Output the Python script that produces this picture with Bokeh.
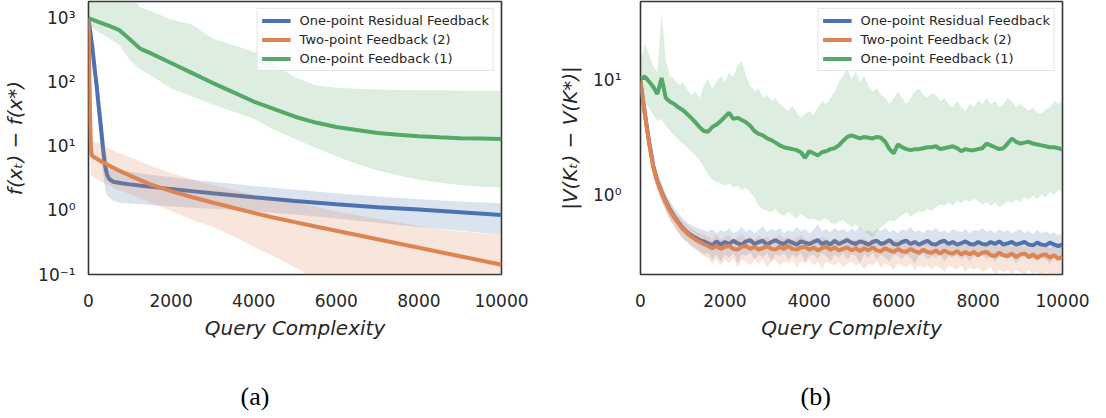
from bokeh.plotting import figure
from bokeh.layouts import row
from bokeh.models import Range1d, FixedTicker, CustomJSTickFormatter, Title
from bokeh.embed import file_html
from bokeh.resources import INLINE

# ---------------- data: panel (a) ----------------
xa_blue = [0, 50, 100, 150, 200, 250, 300, 350, 400, 450, 500, 600, 800, 1000, 1500, 2000, 2500, 3000, 4000, 5000, 6000, 7000, 8000, 9000, 10000]
blue_a = [1000, 560, 320, 160, 85, 40, 20, 9.5, 5.0, 3.6, 3.1, 2.8, 2.65, 2.55, 2.35, 2.15, 2.0, 1.85, 1.6, 1.4, 1.25, 1.12, 1.03, 0.94, 0.85]
blue_a_hi = [1000, 800, 500, 260, 150, 80, 40, 20, 10, 6.0, 4.6, 4.3, 4.2, 4.0, 3.6, 3.3, 3.0, 2.8, 2.4, 2.1, 1.85, 1.65, 1.5, 1.38, 1.28]
blue_a_lo = [1000, 350, 180, 90, 45, 20, 9, 4.0, 2.2, 1.7, 1.6, 1.4, 1.3, 1.28, 1.22, 1.15, 1.1, 1.06, 0.97, 0.86, 0.75, 0.64, 0.55, 0.48, 0.42]

xa_orange = [0, 20, 40, 60, 80, 200, 400, 700, 1000, 1500, 2000, 2500, 3000, 3500, 4000, 4500, 5000, 5500, 6000, 6500, 7000, 7500, 8000, 8500, 9000, 9500, 10000]
orange_a = [1000, 150, 25, 9.0, 7.2, 6.4, 5.4, 4.3, 3.5, 2.55, 2.0, 1.62, 1.33, 1.1, 0.915, 0.77, 0.656, 0.562, 0.483, 0.414, 0.355, 0.305, 0.262, 0.224, 0.193, 0.165, 0.142]
orange_a_hi = [1000, 200, 40, 14, 12.5, 11.5, 10, 8.0, 6.8, 5.0, 3.8, 3.1, 2.5, 2.1, 1.75, 1.5, 1.32, 1.15, 0.95, 0.85, 0.74, 0.65, 0.57, 0.51, 0.47, 0.44, 0.42]
orange_a_lo = [1000, 100, 15, 3.5, 3.4, 3.1, 2.6, 2.1, 1.8, 1.3, 0.98, 0.72, 0.55, 0.4, 0.27, 0.19, 0.13, 0.085, 0.07, 0.06, 0.05, 0.045, 0.04, 0.036, 0.033, 0.03, 0.028]

xa_green = [0, 250, 500, 750, 1000, 1250, 1500, 2000, 2500, 3000, 3500, 4000, 4500, 5000, 5500, 6000, 6500, 7000, 7500, 8000, 8500, 9000, 9500, 10000]
green_a = [1000, 870, 760, 650, 470, 335, 285, 200, 140, 98, 70, 50, 38, 29, 23.5, 20, 18, 16.2, 15.2, 14.4, 13.8, 13.4, 13.2, 13.0]
green_a_hi = [1900, 2300, 3100, 2800, 2300, 1500, 1300, 950, 800, 480, 380, 300, 190, 120, 90, 82, 79, 77, 76, 75, 75, 74, 74, 74]
green_a_lo = [800, 600, 480, 380, 220, 160, 130, 80, 60, 45, 35, 27, 18, 13, 9.5, 7.0, 5.3, 4.2, 3.5, 3.0, 2.7, 2.5, 2.35, 2.25]

# ---------------- data: panel (b) ----------------
xb = list(range(0, 10001, 100))
green_b = [10.3, 10.8, 9.8, 8.8, 7.6, 10.5, 7.0, 6.5, 6.2, 5.8,
           5.5, 5.1, 4.7, 4.3, 3.9, 3.6, 3.55, 3.9, 4.1, 4.4,
           4.8, 5.2, 4.6, 4.7, 4.5, 4.3, 4.0, 3.6, 3.4, 3.3,
           3.1, 3.0, 2.85, 2.7, 2.6, 2.55, 2.5, 2.45, 2.35, 2.1,
           2.4, 2.3, 2.2, 2.35, 2.4, 2.5, 2.55, 2.7, 2.95, 3.2,
           3.3, 3.2, 3.1, 3.2, 3.15, 3.1, 3.2, 3.15, 2.9, 2.5,
           2.3, 2.75, 2.6, 2.5, 2.45, 2.5, 2.5, 2.55, 2.6, 2.6,
           2.65, 2.5, 2.55, 2.6, 2.65, 2.55, 2.4, 2.5, 2.45, 2.45,
           2.5, 2.55, 2.8, 2.7, 2.6, 2.5, 2.55, 2.8, 3.1, 2.9,
           2.8, 2.85, 2.9, 2.8, 2.75, 2.7, 2.65, 2.6, 2.6, 2.55,
           2.48]
green_b_hi = [14.3, 21, 17, 13.4, 11.8, 40, 15, 11, 10.3, 9.1,
              9.7, 8.5, 7.5, 8, 7, 9, 10.3, 8.5, 9.7, 11,
              9.7, 11.8, 10.7, 13.4, 14.8, 11, 9, 8, 8.5, 7,
              7.5, 6.6, 7, 6.2, 5.8, 5.4, 6, 5.2, 4.7, 5.1,
              5.4, 4.9, 5.8, 6.6, 6.2, 7, 8, 9.7, 11, 12.6,
              10.3, 11.8, 9.7, 11, 9, 8, 8.5, 7.5, 7, 6.2,
              7, 8, 7, 6.2, 7, 8, 8.5, 7.5, 7, 7.7,
              7.5, 6.6, 7, 6.2, 5.8, 6.6, 5.8, 5.4, 6.2, 5.8,
              6.6, 6.2, 7, 6.2, 6.6, 5.8, 6.2, 7, 6.6, 5.8,
              6.2, 5.8, 5.4, 5.8, 5.2, 5.1, 5.6, 5.8, 6.6, 6.2,
              6.6]
green_b_lo = [7.5, 6.5, 5.8, 5.0, 4.4, 4.6, 4.0, 3.6, 3.3, 3.0,
              2.8, 2.6, 2.4, 2.2, 2.0, 1.75, 1.5, 1.35, 1.3, 1.25,
              1.2, 1.25, 1.15, 1.2, 1.1, 1.15, 1.05, 0.95, 0.8, 0.75,
              0.72, 0.7, 0.75, 0.68, 0.65, 0.7, 0.66, 0.62, 0.68, 0.64,
              0.6, 0.62, 0.58, 0.6, 0.62, 0.57, 0.55, 0.58, 0.6, 0.56,
              0.52, 0.55, 0.5, 0.47, 0.45, 0.42, 0.48, 0.52, 0.55, 0.6,
              0.58, 0.62, 0.66, 0.7, 0.64, 0.68, 0.72, 0.7, 0.75, 0.72,
              0.78, 0.82, 0.8, 0.85, 0.8, 0.88, 0.84, 0.9, 0.86, 0.92,
              0.88, 0.82, 0.86, 0.8, 0.85, 0.78, 0.82, 0.88, 0.84, 0.9,
              0.86, 0.95, 0.9, 0.98, 0.92, 1.0, 0.95, 1.05, 1.0, 1.1,
              1.05]
blue_b = [9.5, 5.2, 2.95, 1.8, 1.32, 1.06, 0.87, 0.74, 0.64, 0.57,
          0.51, 0.47, 0.44, 0.42, 0.40, 0.39, 0.375, 0.36, 0.39, 0.365,
          0.385, 0.37, 0.395, 0.375, 0.365, 0.39, 0.4, 0.37, 0.385, 0.395,
          0.365, 0.385, 0.4, 0.38, 0.37, 0.395, 0.38, 0.365, 0.39, 0.38,
          0.37, 0.385, 0.4, 0.37, 0.385, 0.365, 0.395, 0.37, 0.385, 0.4,
          0.38, 0.37, 0.39, 0.38, 0.365, 0.385, 0.395, 0.37, 0.38, 0.4,
          0.37, 0.365, 0.385, 0.395, 0.37, 0.385, 0.365, 0.38, 0.395, 0.37,
          0.365, 0.385, 0.395, 0.37, 0.385, 0.365, 0.375, 0.39, 0.37, 0.365,
          0.385, 0.37, 0.365, 0.385, 0.37, 0.39, 0.365, 0.375, 0.385, 0.365,
          0.375, 0.385, 0.365, 0.36, 0.38, 0.365, 0.36, 0.38, 0.365, 0.355,
          0.365]
blue_b_hi = [11, 6.2, 3.5, 2.1, 1.55, 1.25, 1.02, 0.88, 0.76, 0.68,
             0.62, 0.57, 0.54, 0.52, 0.5, 0.49, 0.47, 0.5, 0.46, 0.49,
             0.47, 0.51, 0.46, 0.48, 0.52, 0.47, 0.5, 0.46, 0.49, 0.53,
             0.47, 0.5, 0.48, 0.51, 0.46, 0.49, 0.47, 0.52, 0.48, 0.5,
             0.46, 0.49, 0.55, 0.48, 0.5, 0.47, 0.51, 0.48, 0.5, 0.47,
             0.5, 0.48, 0.52, 0.47, 0.49, 0.46, 0.5, 0.48, 0.51, 0.47,
             0.49, 0.46, 0.5, 0.48, 0.52, 0.47, 0.49, 0.46, 0.5, 0.48,
             0.51, 0.47, 0.49, 0.46, 0.5, 0.48, 0.47, 0.5, 0.46, 0.49,
             0.48, 0.51, 0.47, 0.49, 0.46, 0.5, 0.47, 0.49, 0.46, 0.48,
             0.5, 0.46, 0.48, 0.45, 0.49, 0.46, 0.48, 0.45, 0.47, 0.44,
             0.46]
blue_b_lo = [8.2, 4.4, 2.5, 1.5, 1.1, 0.88, 0.72, 0.61, 0.53, 0.47,
             0.42, 0.39, 0.36, 0.34, 0.32, 0.3, 0.31, 0.27, 0.3, 0.26,
             0.3, 0.28, 0.31, 0.25, 0.3, 0.29, 0.31, 0.27, 0.3, 0.28,
             0.31, 0.26, 0.3, 0.29, 0.31, 0.27, 0.3, 0.28, 0.31, 0.26,
             0.29, 0.3, 0.27, 0.31, 0.29, 0.26, 0.3, 0.28, 0.31, 0.27,
             0.3, 0.29, 0.25, 0.3, 0.28, 0.31, 0.27, 0.3, 0.28, 0.26,
             0.3, 0.29, 0.27, 0.3, 0.28, 0.25, 0.29, 0.3, 0.27, 0.29,
             0.28, 0.3, 0.26, 0.29, 0.28, 0.3, 0.27, 0.29, 0.26, 0.29,
             0.28, 0.3, 0.27, 0.29, 0.26, 0.28, 0.29, 0.27, 0.29, 0.25,
             0.28, 0.29, 0.27, 0.28, 0.26, 0.28, 0.27, 0.25, 0.28, 0.27,
             0.28]
orange_b = [10.0, 5.2, 2.9, 1.75, 1.3, 1.04, 0.85, 0.72, 0.63, 0.56,
            0.5, 0.46, 0.43, 0.405, 0.385, 0.37, 0.355, 0.34, 0.355, 0.335,
            0.35, 0.355, 0.335, 0.33, 0.35, 0.355, 0.335, 0.35, 0.33, 0.34,
            0.355, 0.335, 0.33, 0.35, 0.335, 0.355, 0.335, 0.33, 0.345, 0.35,
            0.33, 0.345, 0.325, 0.34, 0.35, 0.33, 0.345, 0.325, 0.335, 0.345,
            0.325, 0.34, 0.32, 0.34, 0.325, 0.345, 0.325, 0.32, 0.34, 0.325,
            0.315, 0.335, 0.32, 0.315, 0.335, 0.32, 0.31, 0.33, 0.315, 0.31,
            0.325, 0.305, 0.325, 0.31, 0.305, 0.32, 0.3, 0.315, 0.3, 0.315,
            0.295, 0.31, 0.315, 0.295, 0.29, 0.31, 0.295, 0.29, 0.305, 0.285,
            0.3, 0.305, 0.285, 0.3, 0.28, 0.295, 0.3, 0.28, 0.295, 0.275,
            0.285]
orange_b_hi = [11.5, 6.0, 3.4, 2.05, 1.5, 1.2, 0.98, 0.84, 0.73, 0.65,
               0.59, 0.55, 0.51, 0.48, 0.46, 0.45, 0.43, 0.41, 0.45, 0.4,
               0.43, 0.44, 0.4, 0.42, 0.45, 0.41, 0.43, 0.4, 0.44, 0.41,
               0.43, 0.4, 0.42, 0.45, 0.41, 0.43, 0.4, 0.42, 0.44, 0.41,
               0.39, 0.42, 0.4, 0.43, 0.41, 0.39, 0.42, 0.4, 0.41, 0.43,
               0.39, 0.41, 0.4, 0.42, 0.39, 0.41, 0.4, 0.38, 0.41, 0.4,
               0.39, 0.41, 0.38, 0.4, 0.39, 0.41, 0.38, 0.39, 0.4, 0.37,
               0.39, 0.38, 0.4, 0.37, 0.38, 0.39, 0.37, 0.38, 0.36, 0.38,
               0.37, 0.36, 0.38, 0.36, 0.37, 0.35, 0.37, 0.36, 0.35, 0.37,
               0.36, 0.35, 0.36, 0.34, 0.36, 0.35, 0.36, 0.34, 0.35, 0.34,
               0.35]
orange_b_lo = [8.8, 4.5, 2.45, 1.45, 1.1, 0.88, 0.72, 0.6, 0.52, 0.46,
               0.41, 0.38, 0.35, 0.33, 0.31, 0.29, 0.28, 0.25, 0.27, 0.24,
               0.27, 0.25, 0.28, 0.23, 0.27, 0.26, 0.24, 0.27, 0.25, 0.27,
               0.23, 0.26, 0.27, 0.24, 0.26, 0.25, 0.27, 0.23, 0.26, 0.25,
               0.27, 0.24, 0.26, 0.22, 0.26, 0.25, 0.24, 0.26, 0.23, 0.25,
               0.26, 0.24, 0.25, 0.22, 0.25, 0.24, 0.26, 0.23, 0.25, 0.24,
               0.22, 0.25, 0.24, 0.23, 0.25, 0.22, 0.24, 0.23, 0.24, 0.22,
               0.24, 0.23, 0.21, 0.24, 0.23, 0.22, 0.24, 0.21, 0.23, 0.22,
               0.23, 0.21, 0.22, 0.23, 0.2, 0.22, 0.21, 0.22, 0.2, 0.22,
               0.21, 0.2, 0.22, 0.2, 0.21, 0.19, 0.21, 0.2, 0.19, 0.2,
               0.19]

labels = ["One-point Residual Feedback", "Two-point Feedback (2)", "One-point Feedback (1)"]
x_ticks = [0, 2000, 4000, 6000, 8000, 10000]
ya_ticks = [0.1, 1, 10, 100, 1000]
yb_ticks = [1, 10]

BLUE, ORANGE, GREEN = "#4c72b0", "#dd8452", "#55a868"
TXT = "#262626"

sup_fmt = CustomJSTickFormatter(code="""
const e = Math.round(Math.log10(tick));
const m = {"-1": "\u207b\u00b9", "0": "\u2070", "1": "\u00b9", "2": "\u00b2", "3": "\u00b3"};
return "10" + m[String(e)];
""")


def make_panel(yr, ylabel, yticks, caption, cap_offset, bl, br, fw, ylab_standoff, ytick_standoff):
    p = figure(y_axis_type="log", x_range=Range1d(0, 10000), y_range=Range1d(*yr),
               frame_width=fw, frame_height=273,
               min_border_left=bl, min_border_right=br, min_border_top=1, min_border_bottom=128,
               output_backend="svg", toolbar_location=None)
    p.xgrid.grid_line_color = None
    p.ygrid.grid_line_color = None
    p.outline_line_color = "#333333"
    p.outline_line_width = 1.6
    p.outline_line_alpha = 1.0
    p.background_fill_color = "white"
    p.border_fill_color = "white"
    p.xaxis.ticker = FixedTicker(ticks=x_ticks)
    p.yaxis.ticker = FixedTicker(ticks=yticks)
    p.yaxis.formatter = sup_fmt
    for ax in (p.xaxis[0], p.yaxis[0]):
        ax.axis_line_color = None
        ax.major_tick_line_color = None
        ax.minor_tick_line_color = None
        ax.major_label_text_font = "DejaVu Sans"
        ax.major_label_text_font_size = "17px"
        ax.major_label_text_color = TXT
        ax.axis_label_text_font = "DejaVu Sans"
        ax.axis_label_text_font_size = "20px"
        ax.axis_label_text_font_style = "italic"
        ax.axis_label_text_color = TXT
    p.xaxis.axis_label = "Query Complexity"
    p.xaxis.major_label_standoff = 13
    p.xaxis.axis_label_standoff = 6
    p.yaxis.axis_label = ylabel
    p.yaxis.major_label_standoff = ytick_standoff
    p.yaxis.axis_label_standoff = ylab_standoff
    cap = Title(text=caption, align="left", offset=cap_offset, standoff=74,
                text_font="Liberation Serif", text_font_size="26px",
                text_font_style="normal", text_color="black")
    p.add_layout(cap, "below")
    return p


def style_legend(p):
    lg = p.legend[0]
    lg.location = "top_right"
    lg.margin = 7
    lg.padding = 4
    lg.spacing = 4
    lg.glyph_width = 29
    lg.glyph_height = 15
    lg.label_height = 15
    lg.label_standoff = 9
    lg.label_text_font = "DejaVu Sans"
    lg.label_text_font_size = "13px"
    lg.label_text_color = TXT
    lg.border_line_color = "#cccccc"
    lg.border_line_width = 1
    lg.background_fill_alpha = 0.8


# ---------------- panel (a) ----------------
pa = make_panel((0.1, 1820), "f(x\u209c) \u2212 f(x*)", ya_ticks, "(a)", 152, 86, 41, 413, 8, 7)
pa.varea(xa_blue, blue_a_lo, blue_a_hi, fill_color=BLUE, fill_alpha=0.2)
pa.line(xa_blue, blue_a, line_color=BLUE, line_width=4, legend_label=labels[0])
pa.varea(xa_orange, orange_a_lo, orange_a_hi, fill_color=ORANGE, fill_alpha=0.2)
pa.line(xa_orange, orange_a, line_color=ORANGE, line_width=4, legend_label=labels[1])
pa.varea(xa_green, green_a_lo, green_a_hi, fill_color=GREEN, fill_alpha=0.2)
pa.line(xa_green, green_a, line_color=GREEN, line_width=4, legend_label=labels[2])
style_legend(pa)

# ---------------- panel (b) ----------------
pb = make_panel((0.2, 49), "|V(K\u209c) \u2212 V(K*)|", yb_ticks, "(b)", 160, 98, 30, 422, 8, 13)
pb.varea(xb, blue_b_lo, blue_b_hi, fill_color=BLUE, fill_alpha=0.2)
pb.line(xb, blue_b, line_color=BLUE, line_width=4, legend_label=labels[0])
pb.varea(xb, orange_b_lo, orange_b_hi, fill_color=ORANGE, fill_alpha=0.2)
pb.line(xb, orange_b, line_color=ORANGE, line_width=4, legend_label=labels[1])
pb.varea(xb, green_b_lo, green_b_hi, fill_color=GREEN, fill_alpha=0.2)
pb.line(xb, green_b, line_color=GREEN, line_width=4, legend_label=labels[2])
style_legend(pb)

layout = row(pa, pb)
open("out.html", "w").write(file_html(layout, INLINE))
